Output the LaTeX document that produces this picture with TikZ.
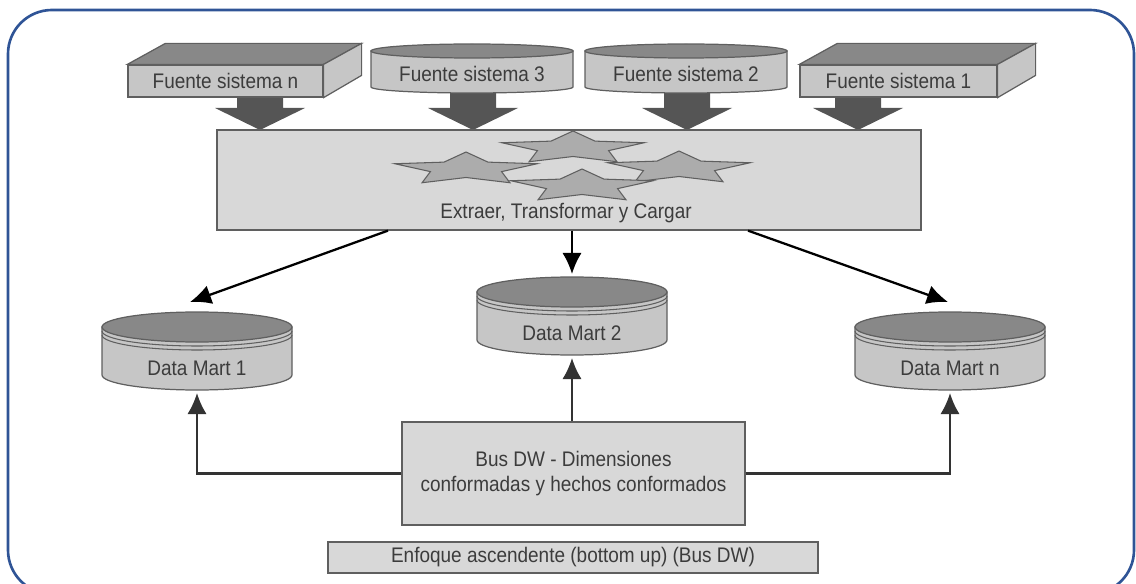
\documentclass[tikz,border=0pt]{standalone}
\usepackage{fontspec}
\setmainfont{Liberation Sans}[FakeStretch=0.9]
\usetikzlibrary{arrows.meta,shapes.geometric,calc}

\definecolor{rahmen}{RGB}{47,84,150}
\definecolor{texto}{RGB}{60,60,60}
\definecolor{borde}{RGB}{95,95,95}
\definecolor{claro}{RGB}{216,216,216}
\definecolor{medio}{RGB}{198,198,198}
\definecolor{oscuro}{RGB}{136,136,136}
\definecolor{flecha}{RGB}{85,85,85}
\definecolor{estrella}{RGB}{172,172,172}

\def\px{0.02cm}

\begin{document}
\begin{tikzpicture}[x=\px, y=-\px, >={Latex[length=12pt,width=11pt]},
  rotulo/.style={font=\fontsize{12}{14.2}\selectfont, text=texto, inner sep=0pt},
  caja/.style={draw=borde, line width=0.7pt, fill=claro, inner sep=0pt},
  frente/.style={caja, rotulo, fill=medio, minimum height=32*\px},
  flujo/.style={->, line width=1.3pt, black},
  busflujo/.style={->, line width=1.3pt, black!80},
  etlstar/.style={star, star points=5, star point ratio=2.0, draw=borde, fill=estrella,
    line width=0.6pt, minimum size=34*\px, inner sep=0pt, xscale=4.4, transform shape}]
\useasboundingbox (0,0) rectangle (1136,584);
% Rahmen
\draw[rahmen, line width=1.5pt, rounded corners=25pt] (8,10) rectangle (1134,594);
% Blockpfeile unter den Quellen
\foreach \x in {260,473,687,858}{
  \fill[flecha] (\x-23,88) -- (\x+23,88) -- (\x+23,108) -- (\x+45,108) -- (\x,130)
    -- (\x-45,108) -- (\x-23,108) -- cycle;
}
% Quellen als Quader
\node[frente, minimum width=195*\px] (fuenten) at (225.5,81) {Fuente sistema n};
\node[frente, minimum width=197*\px] (fuente1) at (898.5,81) {Fuente sistema 1};
\foreach \q in {fuenten,fuente1}{
  \filldraw[draw=borde, line width=0.7pt, fill=oscuro] (\q.north west) -- ++(38,-21)
    -- ($(\q.north east)+(38,-21)$) -- (\q.north east) -- cycle;
  \filldraw[draw=borde, line width=0.7pt, fill=medio] (\q.north east) -- ++(38,-21)
    -- ++(0,32) -- (\q.south east) -- cycle;
}
% Quellen als Scheiben
\foreach \n/\cx/\t in {fuente3/472/Fuente sistema 3, fuente2/686/Fuente sistema 2}{
  \filldraw[draw=borde, line width=0.7pt, fill=medio] (\cx-101,51) -- (\cx-101,87)
    arc[start angle=180, end angle=0, x radius=101, y radius=6] -- (\cx+101,51) -- cycle;
  \filldraw[draw=borde, line width=0.7pt, fill=oscuro] (\cx,51) ellipse[x radius=101, y radius=7];
  \node[rotulo] (\n) at (\cx,74) {\t};
}
% ETL
\node[caja, minimum width=704*\px, minimum height=100*\px] (etl) at (569,180) {};
\node[etlstar] (s1) at (466,169) {};
\node[etlstar] (s2) at (573,148) {};
\node[etlstar] (s3) at (679,168) {};
\node[etlstar] (s4) at (582,186) {};
\node[rotulo] (etltxt) at (566,213) {Extraer, Transformar y Cargar};
% Data Marts
\foreach \n/\cx/\ty/\t in {dm1/197/327/Data Mart 1, dm2/572/292/Data Mart 2, dmn/950/327/Data Mart n}{
  \filldraw[draw=borde, line width=0.7pt, fill=medio] (\cx-95,\ty) -- (\cx-95,\ty+48)
    arc[start angle=180, end angle=0, x radius=95, y radius=15] -- (\cx+95,\ty) -- cycle;
  \draw[borde, line width=0.6pt] (\cx-95,\ty+4) arc[start angle=180, end angle=0, x radius=95, y radius=15];
  \draw[borde, line width=0.6pt] (\cx-95,\ty+8) arc[start angle=180, end angle=0, x radius=95, y radius=15];
  \filldraw[draw=borde, line width=0.7pt, fill=oscuro] (\cx,\ty) ellipse[x radius=95, y radius=15];
  \node[rotulo] (\n) at (\cx,\ty+41) {\t};
  \coordinate (\n-top) at (\cx,\ty-18);
  \coordinate (\n-bot) at (\cx,\ty+66);
}
\coordinate (dm1-in) at (190,302);
\coordinate (dmn-in) at (948,302);
% Pfeile aus ETL
\draw[flujo] ($(etl.south)+(-181,0)$) -- (dm1-in);
\draw[flujo] (etl.south -| dm2-top) -- (dm2-top);
\draw[flujo] ($(etl.south)+(179,0)$) -- (dmn-in);
% Bus DW
\node[caja, rotulo, align=center, minimum width=343*\px, minimum height=103*\px] (bus)
  at (573.5,473.5) {Bus DW - Dimensiones\\conformadas y hechos conformados};
\draw[busflujo] (bus.west) -| (dm1-bot);
\draw[busflujo] (bus.north -| dm2-bot) -- (dm2-bot);
\draw[busflujo] (bus.east) -| (dmn-bot);
% Unterschrift
\node[caja, rotulo, minimum width=490*\px, minimum height=31*\px] (enfoque)
  at (573,557.5) {Enfoque ascendente (bottom up) (Bus DW)};
\end{tikzpicture}
\end{document}
